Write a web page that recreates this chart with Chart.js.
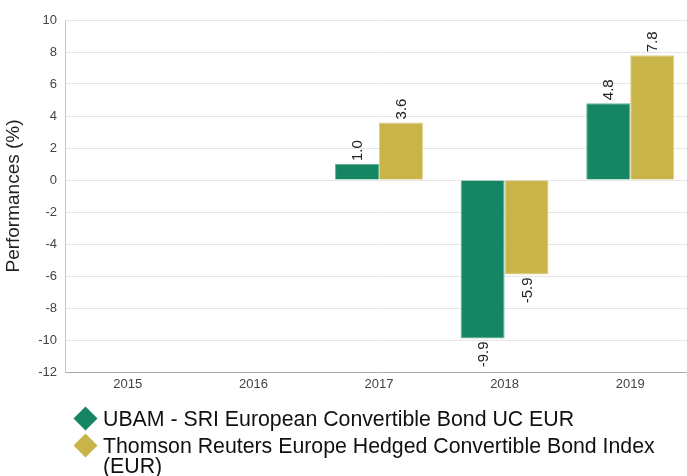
<!DOCTYPE html>
<html>
<head>
<meta charset="utf-8">
<script src="https://cdn.jsdelivr.net/npm/chart.js@4/dist/chart.umd.min.js"></script>
<style>
  html, body { margin: 0; padding: 0; background: #fff; overflow: hidden; }
  #wrap { position: relative; width: 693px; height: 476px; }
  #legend { position: absolute; left: 0; top: 0; font-family: "Liberation Sans", Arial, sans-serif; color: #111; font-size: 21.3px; line-height: 20px; }
  .item { position: absolute; left: 103px; width: 580px; }
  .mark { position: absolute; left: -26px; top: 1px; width: 17px; height: 17px; transform: rotate(45deg); }
</style>
</head>
<body>
<div id="wrap">
  <canvas id="grafica" width="693" height="476"></canvas>
  <div id="legend"></div>
</div>
<script>
// datos
var anios = ['2015', '2016', '2017', '2018', '2019'];
var fondo = [null, null, 1.0, -9.9, 4.8];
var indice = [null, null, 3.6, -5.9, 7.8];
var nombres = ['UBAM - SRI European Convertible Bond UC EUR',
               'Thomson Reuters Europe Hedged Convertible Bond Index (EUR)'];
var colores = ['#158563', '#c8b449'];
var bordes = ['#5fb394', '#ddd08a'];

var fuente = '"Liberation Sans", Arial, sans-serif';

// etiquetas verticales sobre las barras
var etiquetas = {
  id: 'etiquetas',
  afterDatasetsDraw: function (chart) {
    var ctx = chart.ctx;
    chart.data.datasets.forEach(function (ds, i) {
      var meta = chart.getDatasetMeta(i);
      meta.data.forEach(function (bar, j) {
        var v = ds.data[j];
        if (v === null || v === undefined) return;
        ctx.save();
        ctx.font = '15px ' + fuente;
        ctx.fillStyle = '#222';
        ctx.textBaseline = 'middle';
        if (v >= 0) {
          ctx.translate(bar.x, bar.y - 3);
          ctx.rotate(-Math.PI / 2);
          ctx.textAlign = 'left';
        } else {
          ctx.translate(bar.x, bar.y + 3);
          ctx.rotate(-Math.PI / 2);
          ctx.textAlign = 'right';
        }
        ctx.fillText(v.toFixed(1), 0, 1);
        ctx.restore();
      });
    });
  }
};

var w = new Chart(document.getElementById('grafica'), {
  type: 'bar',
  data: {
    labels: anios,
    datasets: [
      { label: nombres[0], data: fondo, backgroundColor: colores[0], borderColor: bordes[0], borderWidth: 1 },
      { label: nombres[1], data: indice, backgroundColor: colores[1], borderColor: bordes[1], borderWidth: 1 }
    ]
  },
  options: {
    responsive: false,
    animation: false,
    events: [],
    layout: { padding: { top: 20, left: 0, right: 0, bottom: 0 } },
    datasets: {
      bar: { barPercentage: 1.0, categoryPercentage: 0.7 }
    },
    scales: {
      x: {
        grid: { display: false, drawTicks: false },
        border: { display: true, color: '#aaaaaa' },
        ticks: { color: '#444', padding: 5, font: { family: fuente, size: 13 } },
        afterFit: function (s) { s.height = 104; }
      },
      y: {
        min: -12,
        max: 10,
        ticks: { stepSize: 2, color: '#444', padding: 8, font: { family: fuente, size: 13 } },
        grid: { color: '#e6e6e6', drawTicks: false },
        border: { display: true, color: '#c8c8c8' },
        title: {
          display: true,
          text: 'Performances (%)',
          color: '#222',
          font: { family: fuente, size: 19 },
          padding: { top: 2, bottom: 0 }
        },
        afterFit: function (s) { s.width = 65; }
      }
    },
    plugins: {
      legend: { display: false },
      tooltip: { enabled: false }
    }
  },
  plugins: [etiquetas]
});

// leyenda en html
var leg = document.getElementById('legend');
var tops = [409, 436];
nombres.forEach(function (n, i) {
  var d = document.createElement('div');
  d.className = 'item';
  d.style.top = tops[i] + 'px';
  var m = document.createElement('span');
  m.className = 'mark';
  m.style.background = colores[i];
  d.appendChild(m);
  d.appendChild(document.createTextNode(n));
  leg.appendChild(d);
});
</script>
</body>
</html>
